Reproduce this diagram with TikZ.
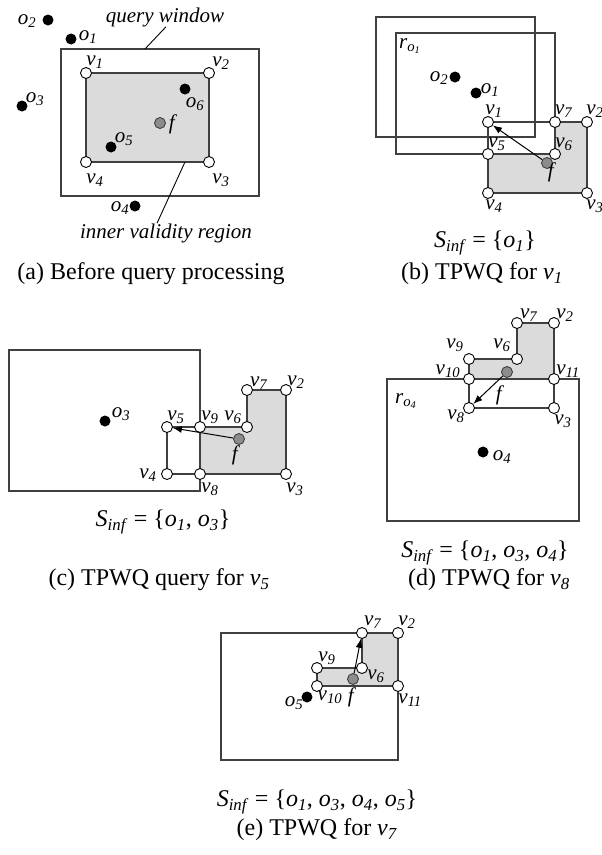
\documentclass[tikz,border=0pt]{standalone}
\usepackage{fontspec}
\setmainfont{Liberation Serif}
\usepackage{tikz}
\usetikzlibrary{arrows.meta,backgrounds}
\definecolor{ivrgray}{gray}{0.86}
\definecolor{edgegray}{gray}{0.25}
\newcommand\lblsize{\fontsize{21}{24}\selectfont}
\newcommand\capsize{\fontsize{24}{28}\selectfont}
\newcommand\vx[1]{\textit{v}\textsubscript{\textit{#1}}}
\newcommand\ox[1]{\textit{o}\textsubscript{\textit{#1}}}
\newcommand\rx[1]{\textit{r}\textsubscript{\textit{o}\textsubscript{\textit{#1}}}}
\newcommand\Sinf{\textit{S}\textsubscript{\textit{inf}}}
\tikzset{
  vtx/.style={circle, draw=black, fill=white, line width=0.9pt, inner sep=0pt, minimum size=11pt},
  obj/.style={circle, fill=black, inner sep=0pt, minimum size=11pt},
  qpt/.style={circle, draw=black!75, fill=black!45, line width=0.9pt, inner sep=0pt, minimum size=11pt},
  win/.style={draw=edgegray, line width=1.1pt},
  ivr/.style={draw=edgegray, fill=ivrgray, line width=1.5pt},
  cell/.style={draw=edgegray, line width=1.3pt},
  lbl/.style={font=\lblsize, inner sep=0pt},
  captext/.style={font=\capsize, inner sep=0pt},
  lead/.style={line width=0.9pt},
  arr/.style={-{Latex[length=9pt,width=7pt]}, line width=1pt}
}
\begin{document}
\begin{tikzpicture}[x=1pt,y=-1pt]
\useasboundingbox (0,0) rectangle (602,855);
% (a) before query processing
\node[vtx] (a-v1) at (86,73) {};
\node[vtx] (a-v2) at (209,73) {};
\node[vtx] (a-v3) at (209,162) {};
\node[vtx] (a-v4) at (86,162) {};
\node[obj] (a-o1) at (71,39) {};
\node[obj] (a-o2) at (48,20) {};
\node[obj] (a-o3) at (22,106) {};
\node[obj] (a-o4) at (135,206) {};
\node[obj] (a-o5) at (111,147) {};
\node[obj] (a-o6) at (185,89) {};
\node[qpt] (a-f) at (160,123) {};
\node[lbl] (a-v1l) at (95,62) {\vx{1}};
\node[lbl] (a-v2l) at (221,63) {\vx{2}};
\node[lbl] (a-v3l) at (221,180) {\vx{3}};
\node[lbl] (a-v4l) at (95,180) {\vx{4}};
\node[lbl] (a-o1l) at (88,37) {\ox{1}};
\node[lbl] (a-o2l) at (27,21) {\ox{2}};
\node[lbl] (a-o3l) at (35,99) {\ox{3}};
\node[lbl] (a-o4l) at (120,208) {\ox{4}};
\node[lbl] (a-o5l) at (124,139) {\ox{5}};
\node[lbl] (a-o6l) at (195,104) {\ox{6}};
\node[lbl] (a-fl) at (173,124) {\textit{f}};
\node[lbl] (a-qw) at (165,17) {\textit{query window}};
\node[lbl] (a-ivr) at (166,233) {\textit{inner validity region}};
\node[captext] (a-cap) at (151,274) {(a) Before query processing};
\coordinate (a-qwpt) at (145,49);
\coordinate (a-ivrpt) at (185,162);
\draw[lead] (a-qwpt) -- ([xshift=1pt]a-qw.south);
\draw[lead] (a-ivrpt) -- ([xshift=-9pt]a-ivr.north);
\begin{pgfonlayer}{background}
\draw[win] (61,49) rectangle (259,196);
\draw[ivr] (a-v1.center) -- (a-v2.center) -- (a-v3.center) -- (a-v4.center) -- cycle;
\end{pgfonlayer}
% (b) TPWQ for v1
\node[vtx] (b-v1) at (488,122) {};
\node[vtx] (b-v7) at (555,122) {};
\node[vtx] (b-v2) at (587,122) {};
\node[vtx] (b-v5) at (488,154) {};
\node[vtx] (b-v6) at (555,154) {};
\node[vtx] (b-v4) at (488,193) {};
\node[vtx] (b-v3) at (587,193) {};
\node[obj] (b-o2) at (455,77) {};
\node[obj] (b-o1) at (476,93) {};
\node[qpt] (b-f) at (547,163) {};
\node[lbl] (b-rl) at (410,46) {\rx{1}};
\node[lbl] (b-o2l) at (439,78) {\ox{2}};
\node[lbl] (b-o1l) at (490,90) {\ox{1}};
\node[lbl] (b-v1l) at (494,111) {\vx{1}};
\node[lbl] (b-v7l) at (564,111) {\vx{7}};
\node[lbl] (b-v2l) at (595,111) {\vx{2}};
\node[lbl] (b-v5l) at (497,144) {\vx{5}};
\node[lbl] (b-v6l) at (564,144) {\vx{6}};
\node[lbl] (b-fl) at (552,172) {\textit{f}};
\node[lbl] (b-v4l) at (494,206) {\vx{4}};
\node[lbl] (b-v3l) at (595,206) {\vx{3}};
\node[captext] (b-sinf) at (485,243) {\Sinf{} = \{\ox{1}\}};
\node[captext] (b-cap) at (482,274) {(b) TPWQ for \vx{1}};
\begin{pgfonlayer}{background}
\draw[win] (376,17) rectangle (535,137);
\draw[win] (396,33) rectangle (555,154);
\draw[ivr] (b-v7.center) -- (b-v2.center) -- (b-v3.center) -- (b-v4.center) -- (b-v5.center) -- (b-v6.center) -- cycle;
\draw[cell] (b-v5.center) -- (b-v1.center) -- (b-v7.center);
\end{pgfonlayer}
\draw[arr] (b-f) -- (b-v1);
% (c) TPWQ query for v5
\node[vtx] (c-v5) at (167,427) {};
\node[vtx] (c-v9) at (200,427) {};
\node[vtx] (c-v6) at (247,427) {};
\node[vtx] (c-v7) at (247,390) {};
\node[vtx] (c-v2) at (286,390) {};
\node[vtx] (c-v4) at (167,474) {};
\node[vtx] (c-v8) at (200,474) {};
\node[vtx] (c-v3) at (286,474) {};
\node[obj] (c-o3) at (105,421) {};
\node[qpt] (c-f) at (239,439) {};
\node[lbl] (c-o3l) at (121,414) {\ox{3}};
\node[lbl] (c-v5l) at (176,417) {\vx{5}};
\node[lbl] (c-v9l) at (210,417) {\vx{9}};
\node[lbl] (c-v6l) at (233,417) {\vx{6}};
\node[lbl] (c-v7l) at (259,383) {\vx{7}};
\node[lbl] (c-v2l) at (296,382) {\vx{2}};
\node[lbl] (c-v4l) at (148,475) {\vx{4}};
\node[lbl] (c-v8l) at (210,489) {\vx{8}};
\node[lbl] (c-v3l) at (295,489) {\vx{3}};
\node[lbl] (c-fl) at (236,455) {\textit{f}};
\node[captext] (c-sinf) at (163,522) {\Sinf{} = \{\ox{1}, \ox{3}\}};
\node[captext] (c-cap) at (159,580) {(c) TPWQ query for \vx{5}};
\begin{pgfonlayer}{background}
\draw[win] (9,350) rectangle (200,491);
\draw[ivr] (c-v9.center) -- (c-v6.center) -- (c-v7.center) -- (c-v2.center) -- (c-v3.center) -- (c-v8.center) -- cycle;
\draw[cell] (c-v9.center) -- (c-v5.center) -- (c-v4.center) -- (c-v8.center);
\end{pgfonlayer}
\draw[arr] (c-f) -- (c-v5);
% (d) TPWQ for v8
\node[vtx] (d-v7) at (517,323) {};
\node[vtx] (d-v2) at (554,323) {};
\node[vtx] (d-v9) at (469,359) {};
\node[vtx] (d-v6) at (517,359) {};
\node[vtx] (d-v10) at (469,379) {};
\node[vtx] (d-v11) at (554,379) {};
\node[vtx] (d-v8) at (469,408) {};
\node[vtx] (d-v3) at (554,408) {};
\node[obj] (d-o4) at (483,452) {};
\node[qpt] (d-f) at (507,372) {};
\node[lbl] (d-v7l) at (529,315) {\vx{7}};
\node[lbl] (d-v2l) at (565,315) {\vx{2}};
\node[lbl] (d-v9l) at (455,345) {\vx{9}};
\node[lbl] (d-v6l) at (502,345) {\vx{6}};
\node[lbl] (d-v10l) at (448,371) {\vx{10}};
\node[lbl] (d-v11l) at (568,371) {\vx{11}};
\node[lbl] (d-v8l) at (456,416) {\vx{8}};
\node[lbl] (d-v3l) at (563,421) {\vx{3}};
\node[lbl] (d-fl) at (500,395) {\textit{f}};
\node[lbl] (d-rl) at (406,401) {\rx{4}};
\node[lbl] (d-o4l) at (502,457) {\ox{4}};
\node[captext] (d-sinf) at (485,553) {\Sinf{} = \{\ox{1}, \ox{3}, \ox{4}\}};
\node[captext] (d-cap) at (489,580) {(d) TPWQ for \vx{8}};
\begin{pgfonlayer}{background}
\draw[win] (387,379) rectangle (579,521);
\draw[ivr] (d-v9.center) -- (d-v6.center) -- (d-v7.center) -- (d-v2.center) -- (d-v11.center) -- (d-v10.center) -- cycle;
\draw[cell] (d-v10.center) -- (d-v8.center) -- (d-v3.center) -- (d-v11.center);
\end{pgfonlayer}
\draw[arr] (d-f) -- (d-v8);
% (e) TPWQ for v7
\node[vtx] (e-v7) at (362,633) {};
\node[vtx] (e-v2) at (398,633) {};
\node[vtx] (e-v9) at (317,668) {};
\node[vtx] (e-v6) at (362,668) {};
\node[vtx] (e-v10) at (317,686) {};
\node[vtx] (e-v11) at (398,686) {};
\node[obj] (e-o5) at (307,697) {};
\node[qpt] (e-f) at (353,679) {};
\node[lbl] (e-v7l) at (373,622) {\vx{7}};
\node[lbl] (e-v2l) at (407,622) {\vx{2}};
\node[lbl] (e-v9l) at (327,658) {\vx{9}};
\node[lbl] (e-v6l) at (376,676) {\vx{6}};
\node[lbl] (e-v10l) at (330,697) {\vx{10}};
\node[lbl] (e-v11l) at (410,700) {\vx{11}};
\node[lbl] (e-fl) at (352,697) {\textit{f}};
\node[lbl] (e-o5l) at (294,703) {\ox{5}};
\node[captext] (e-sinf) at (317,802) {\Sinf{} = \{\ox{1}, \ox{3}, \ox{4}, \ox{5}\}};
\node[captext] (e-cap) at (317,830) {(e) TPWQ for \vx{7}};
\begin{pgfonlayer}{background}
\draw[win] (221,633) rectangle (398,760);
\draw[ivr] (e-v9.center) -- (e-v6.center) -- (e-v7.center) -- (e-v2.center) -- (e-v11.center) -- (e-v10.center) -- cycle;
\end{pgfonlayer}
\draw[arr] (e-f) -- (e-v7);
\end{tikzpicture}
\end{document}
